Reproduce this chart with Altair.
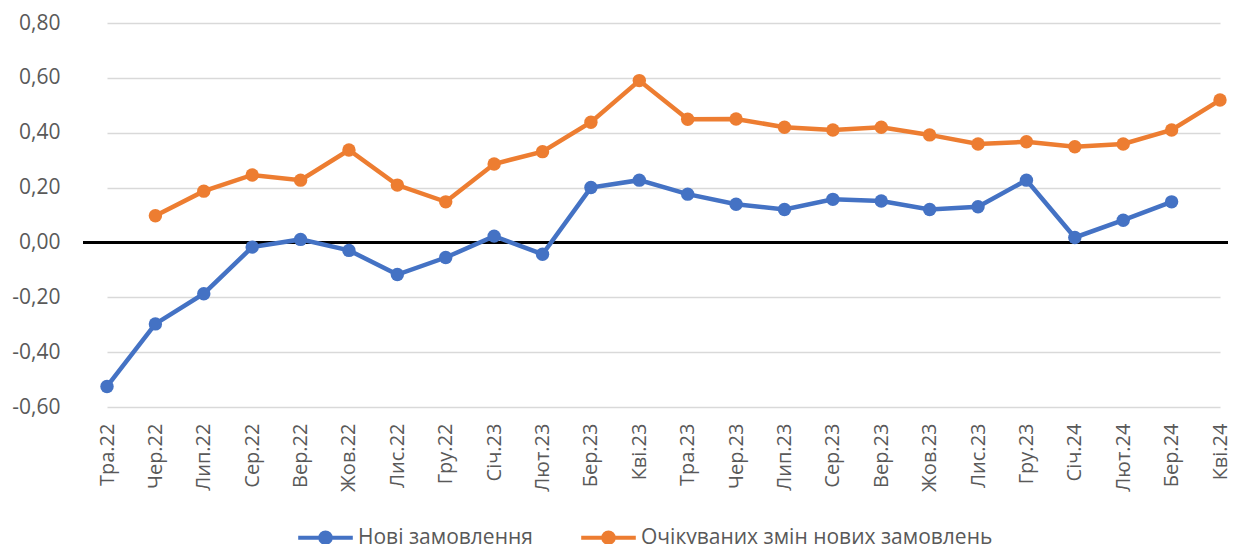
import altair as alt
import pandas as pd

months = ["Тра.22", "Чер.22", "Лип.22", "Сер.22", "Вер.22", "Жов.22", "Лис.22", "Гру.22",
          "Січ.23", "Лют.23", "Бер.23", "Кві.23", "Тра.23", "Чер.23", "Лип.23", "Сер.23",
          "Вер.23", "Жов.23", "Лис.23", "Гру.23", "Січ.24", "Лют.24", "Бер.24", "Кві.24"]

series_names = ["Нові замовлення", "Очікуваних змін нових замовлень"]
series_colors = ["#4472C4", "#ED7D31"]

new_orders = [-0.525, -0.297, -0.187, -0.017, 0.011, -0.029, -0.117, -0.055,
              0.023, -0.043, 0.200, 0.227, 0.176, 0.139, 0.120, 0.157,
              0.151, 0.120, 0.130, 0.227, 0.018, 0.081, 0.148, None]
expected = [None, 0.097, 0.187, 0.246, 0.227, 0.337, 0.209, 0.148,
            0.286, 0.331, 0.438, 0.590, 0.449, 0.450, 0.420, 0.410,
            0.420, 0.392, 0.359, 0.367, 0.349, 0.359, 0.410, 0.519]

y_ticks = [-0.6, -0.4, -0.2, 0.0, 0.2, 0.4, 0.6, 0.8]

rows = []
for name, vals in zip(series_names, [new_orders, expected]):
    for m, v in zip(months, vals):
        if v is not None:
            rows.append({"month": m, "series": name, "value": v})
df = pd.DataFrame(rows)

FONT = "Open Sans"
TXT = "#595959"

x = alt.X("month:O", sort=months, title=None,
          scale=alt.Scale(type="point", range=[24, 1137], padding=0),
          axis=alt.Axis(labelAngle=270, labelFont=FONT, labelFontSize=20, labelColor=TXT,
                        labelPadding=16, labelLimit=0, ticks=False, domain=False, grid=False))
y = alt.Y("value:Q", title=None,
          scale=alt.Scale(domain=[-0.6, 0.8], nice=False, zero=False),
          axis=alt.Axis(values=y_ticks, labelFont=FONT, labelFontSize=21, labelColor=TXT,
                        labelPadding=23, ticks=False, domain=False, grid=True,
                        gridColor="#D9D9D9", gridWidth=1.5,
                        labelExpr="(datum.value < -0.0001 ? '-' : '') + replace(format(abs(datum.value), '.2f'), '.', ',')"))

legend = alt.Legend(
    title=None, orient="none", direction="horizontal", legendX=232, legendY=504,
    labelFont=FONT, labelFontSize=21, labelColor=TXT, labelOffset=22, labelLimit=0,
    symbolType="M-3.9,0H3.9M-0.75,0A0.75,0.75,0,1,0,0.75,0A0.75,0.75,0,1,0,-0.75,0Z",
    symbolSize=196, symbolStrokeWidth=4, columnPadding=40, padding=0,
)

color = alt.Color("series:N", sort=series_names,
                  scale=alt.Scale(domain=series_names, range=series_colors),
                  legend=legend)

zero_rule = alt.Chart(df).mark_rule(color="black", strokeWidth=1.5).encode(y=alt.datum(0))

lines = alt.Chart(df).mark_line(strokeWidth=4.5, point=alt.OverlayMarkDef(size=180, filled=True, opacity=1)).encode(
    x=x, y=y, color=color, detail="series:N")

chart = alt.layer(zero_rule, lines).properties(
    width=1145, height=384,
    autosize=alt.AutoSizeParams(type="none"),
    padding={"left": 75, "top": 15, "right": 0, "bottom": 137},
    background="white",
).configure_view(stroke=None)

chart.save("out.html", embed_options={"renderer": "svg", "actions": False})
